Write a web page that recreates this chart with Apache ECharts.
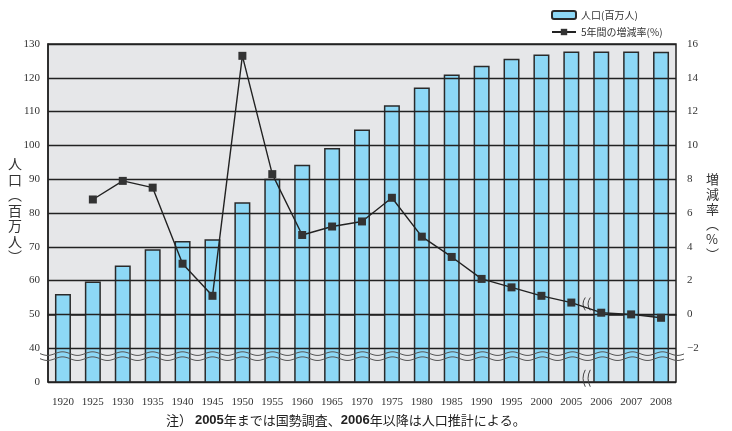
<!DOCTYPE html>
<html><head><meta charset="utf-8">
<script src="https://cdn.jsdelivr.net/npm/echarts@6/dist/echarts.min.js"></script>
<style>html,body{margin:0;padding:0;background:#fff}#c{width:732px;height:431px}</style>
</head><body><div id="c"></div>
<script>
const years = ['1920','1925','1930','1935','1940','1945','1950','1955','1960','1965','1970','1975','1980','1985','1990','1995','2000','2005','2006','2007','2008'];
const population = [56.0, 59.7, 64.5, 69.3, 71.7, 72.2, 83.2, 90.1, 94.3, 99.2, 104.7, 111.9, 117.1, 121.0, 123.6, 125.6, 126.9, 127.8, 127.8, 127.8, 127.7];
const growthRate = [null, 6.8, 7.9, 7.5, 3.0, 1.1, 15.3, 8.3, 4.7, 5.2, 5.5, 6.9, 4.6, 3.4, 2.1, 1.6, 1.1, 0.7, 0.1, 0.0, -0.2];
const popName = '人口(百万人)';
const rateName = '5年間の増減率(%)';

const serif = 'Liberation Serif, DejaVu Serif, serif';
const jp = 'Noto Sans CJK JP, sans-serif';

const chart = echarts.init(document.getElementById('c'));

function wave(x0, x1, y0, amp, period) {
  const pts = [];
  for (let x = x0; x <= x1; x += 1) pts.push([x, y0 + amp * Math.sin((x - x0) / period * 2 * Math.PI)]);
  return pts;
}

chart.setOption({
  animation: false,
  backgroundColor: '#fff',
  grid: { left: 48, right: 56, top: 44, bottom: 49, show: true, backgroundColor: '#e6e7e9', borderColor: '#222', borderWidth: 1.5 },
  legend: {
    orient: 'vertical', left: 546, top: 5, itemWidth: 24, itemHeight: 8, itemGap: 7,
    textStyle: { fontSize: 10, color: '#333', fontFamily: jp },
    data: [popName, rateName]
  },
  xAxis: {
    type: 'category', data: years,
    axisLine: { show: true, lineStyle: { color: '#222', width: 1.5 } },
    axisTick: { show: false },
    axisLabel: { fontFamily: serif, fontSize: 11, color: '#333', margin: 15, interval: 0 }
  },
  yAxis: [
    {
      type: 'value', min: 30, max: 130, interval: 10, z: 3,
      axisLine: { show: true, lineStyle: { color: '#222', width: 1.5 } },
      axisTick: { show: false },
      splitLine: { show: true, lineStyle: { color: '#222', width: 1.3 } },
      axisLabel: { fontFamily: serif, fontSize: 11, color: '#333', margin: 8, formatter: v => v === 30 ? '0' : String(v) }
    },
    {
      type: 'value', min: -4, max: 16, interval: 2, z: 3,
      axisLine: { show: false },
      axisTick: { show: false },
      splitLine: { show: false },
      axisLabel: { fontFamily: serif, fontSize: 11, color: '#333', margin: 11, formatter: v => v === -4 ? '' : (v < 0 ? '−' + Math.abs(v) : String(v)) }
    }
  ],
  series: [
    {
      name: popName, type: 'bar', data: population, barWidth: 16, z: 2,
      itemStyle: { color: '#8dd8f6', borderColor: '#2a2a2a', borderWidth: 1.5 }
    },
    {
      type: 'custom', yAxisIndex: 0, z: 5, silent: true, data: [[0, 0]],
      renderItem: function (params, api) {
        const cs = params.coordSys;
        const band = api.size([1, 0])[0];
        const ya = api.coord([0, 38.4])[1];
        const yb = api.coord([0, 36.9])[1];
        const children = [];
        [ya, yb].forEach(y => children.push({
          type: 'polyline', shape: { points: wave(cs.x - 8, cs.x + cs.width + 8, y, 1.8, 30) },
          style: { stroke: '#555', lineWidth: 1, fill: null }
        }));
        const xb = api.coord([17, 0])[0] + band / 2;
        const marks = [[api.coord([0, 55])[1], api.coord([0, 51.2])[1]], [api.coord([0, 33.6])[1], api.coord([0, 28.6])[1]]];
        marks.forEach(m => {
          [-2.5, 2.5].forEach(dx => children.push({
            type: 'bezierCurve',
            shape: { x1: xb + dx + 1.5, y1: m[0], x2: xb + dx + 1.5, y2: m[1], cpx1: xb + dx - 3, cpy1: (m[0] + m[1]) / 2 },
            style: { stroke: '#444', lineWidth: 1, fill: null }
          }));
        });
        return { type: 'group', children: children };
      }
    },
    {
      name: rateName, type: 'line', yAxisIndex: 1, data: growthRate, z: 10,
      symbol: 'rect', symbolSize: 8, showSymbol: true,
      lineStyle: { color: '#222', width: 1.4 },
      itemStyle: { color: '#333' }
    }
  ],
  graphic: [
    {
      type: 'text', left: 8, top: 156,
      style: { text: '人\n口\n︵\n百\n万\n人\n︶', font: '14px ' + jp, fill: '#333', lineHeight: 15.5, align: 'center' }
    },
    {
      type: 'text', left: 706, top: 172,
      style: { text: '増\n減\n率\n︵\n%\n︶', font: '13px ' + jp, fill: '#333', lineHeight: 15, align: 'center' }
    },
    {
      type: 'text', left: 166, top: 414,
      style: {
        text: '注） {b|2005}年までは国勢調査、{b|2006}年以降は人口推計による。',
        font: '13px ' + jp, fill: '#222',
        rich: { b: { fontWeight: 'bold', fontSize: 13, fontFamily: 'Liberation Sans, Arial, sans-serif', fill: '#222' } }
      }
    }
  ]
});
</script>
</body></html>
